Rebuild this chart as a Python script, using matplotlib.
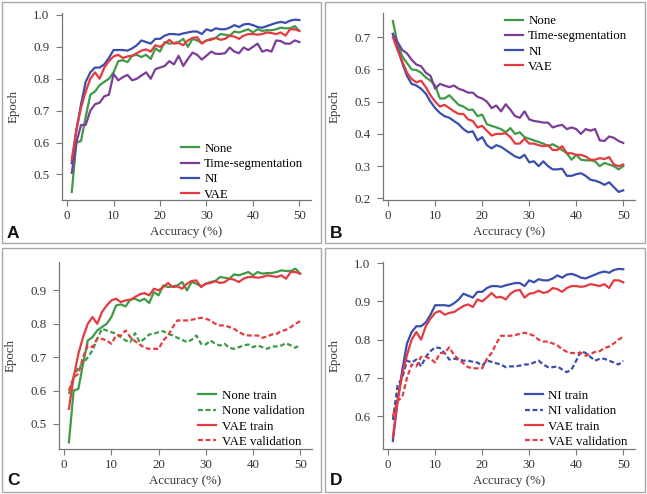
import numpy as np
import matplotlib
matplotlib.use('Agg')
import matplotlib.pyplot as plt
from matplotlib.patches import Rectangle

plt.rcParams['font.family'] = ['Liberation Serif', 'DejaVu Serif']

epochs = list(range(1, 51))

# panel A: training accuracy per augmentation
a_none = [0.445, 0.60, 0.605, 0.68, 0.75, 0.76, 0.78, 0.79, 0.80, 0.82,
          0.855, 0.858, 0.852, 0.872, 0.875, 0.868, 0.875, 0.862, 0.895, 0.885,
          0.915, 0.91, 0.912, 0.915, 0.925, 0.90, 0.925, 0.92, 0.912, 0.92,
          0.925, 0.928, 0.94, 0.938, 0.935, 0.948, 0.945, 0.95, 0.955, 0.945,
          0.955, 0.95, 0.952, 0.952, 0.955, 0.96, 0.958, 0.958, 0.965, 0.95]
a_ts = [0.505, 0.60, 0.655, 0.655, 0.70, 0.72, 0.725, 0.745, 0.75, 0.815,
        0.795, 0.805, 0.812, 0.795, 0.80, 0.81, 0.82, 0.80, 0.83, 0.835,
        0.84, 0.855, 0.845, 0.872, 0.84, 0.862, 0.882, 0.875, 0.86, 0.872,
        0.885, 0.878, 0.878, 0.88, 0.898, 0.885, 0.88, 0.898, 0.89, 0.90,
        0.91, 0.885, 0.89, 0.885, 0.92, 0.918, 0.91, 0.91, 0.92, 0.915]
a_ni = [0.535, 0.64, 0.72, 0.79, 0.82, 0.835, 0.835, 0.845, 0.865, 0.89,
        0.89, 0.89, 0.888, 0.895, 0.905, 0.92, 0.915, 0.91, 0.925, 0.925,
        0.935, 0.94, 0.94, 0.938, 0.942, 0.945, 0.948, 0.948, 0.94, 0.955,
        0.95, 0.958, 0.955, 0.955, 0.96, 0.968, 0.962, 0.97, 0.972, 0.968,
        0.962, 0.96, 0.965, 0.97, 0.975, 0.978, 0.975, 0.982, 0.985, 0.984]
a_vae = [0.545, 0.64, 0.71, 0.76, 0.80, 0.82, 0.80, 0.835, 0.855, 0.87,
         0.875, 0.865, 0.87, 0.872, 0.88, 0.888, 0.892, 0.885, 0.905, 0.90,
         0.91, 0.922, 0.91, 0.912, 0.905, 0.92, 0.928, 0.93, 0.91, 0.92,
         0.922, 0.928, 0.922, 0.925, 0.935, 0.932, 0.925, 0.935, 0.94, 0.94,
         0.938, 0.94, 0.945, 0.943, 0.94, 0.945, 0.935, 0.955, 0.955, 0.95]

# panel B: loss per augmentation
b_none = [0.75, 0.68, 0.64, 0.62, 0.60, 0.598, 0.59, 0.575, 0.565, 0.55,
          0.51, 0.51, 0.52, 0.505, 0.49, 0.485, 0.475, 0.475, 0.455, 0.46,
          0.43, 0.425, 0.42, 0.415, 0.405, 0.418, 0.40, 0.405, 0.39, 0.385,
          0.38, 0.375, 0.37, 0.362, 0.368, 0.36, 0.35, 0.34, 0.32, 0.335,
          0.32, 0.318, 0.318, 0.315, 0.30, 0.31, 0.305, 0.30, 0.29, 0.30]
b_ts = [0.71, 0.685, 0.66, 0.65, 0.63, 0.615, 0.61, 0.59, 0.58, 0.54,
        0.555, 0.55, 0.545, 0.55, 0.54, 0.535, 0.528, 0.528, 0.515, 0.51,
        0.50, 0.48, 0.488, 0.47, 0.492, 0.475, 0.455, 0.45, 0.47, 0.445,
        0.44, 0.438, 0.435, 0.435, 0.42, 0.425, 0.428, 0.415, 0.42, 0.415,
        0.40, 0.415, 0.41, 0.415, 0.38, 0.378, 0.392, 0.388, 0.378, 0.372]
b_ni = [0.71, 0.665, 0.62, 0.58, 0.555, 0.55, 0.54, 0.525, 0.50, 0.48,
        0.465, 0.455, 0.45, 0.44, 0.43, 0.415, 0.405, 0.408, 0.38, 0.39,
        0.365, 0.355, 0.365, 0.36, 0.35, 0.34, 0.33, 0.325, 0.335, 0.312,
        0.315, 0.30, 0.315, 0.30, 0.29, 0.29, 0.292, 0.27, 0.27, 0.275,
        0.278, 0.27, 0.258, 0.255, 0.25, 0.242, 0.25, 0.235, 0.22, 0.225]
b_vae = [0.70, 0.66, 0.625, 0.59, 0.57, 0.56, 0.565, 0.545, 0.52, 0.50,
         0.485, 0.49, 0.48, 0.47, 0.462, 0.462, 0.445, 0.44, 0.42, 0.425,
         0.41, 0.395, 0.40, 0.40, 0.402, 0.39, 0.37, 0.37, 0.385, 0.37,
         0.37, 0.365, 0.362, 0.365, 0.35, 0.35, 0.362, 0.34, 0.34, 0.335,
         0.335, 0.33, 0.32, 0.32, 0.325, 0.322, 0.328, 0.305, 0.30, 0.305]

# validation curves (panels C and D)
none_val = [0.59, 0.64, 0.67, 0.68, 0.70, 0.72, 0.755, 0.785, 0.78, 0.775,
            0.77, 0.76, 0.75, 0.745, 0.772, 0.745, 0.755, 0.768, 0.77, 0.775,
            0.778, 0.77, 0.765, 0.758, 0.752, 0.745, 0.752, 0.765, 0.74, 0.738,
            0.75, 0.74, 0.735, 0.74, 0.728, 0.725, 0.73, 0.735, 0.738, 0.73,
            0.735, 0.73, 0.725, 0.732, 0.732, 0.735, 0.742, 0.735, 0.728, 0.738]
vae_val = [0.60, 0.64, 0.65, 0.70, 0.735, 0.73, 0.755, 0.755, 0.75, 0.74,
           0.765, 0.765, 0.78, 0.76, 0.748, 0.738, 0.728, 0.725, 0.725, 0.725,
           0.75, 0.765, 0.79, 0.81, 0.81, 0.81, 0.812, 0.815, 0.818, 0.815,
           0.81, 0.80, 0.795, 0.795, 0.79, 0.785, 0.775, 0.768, 0.765, 0.765,
           0.765, 0.758, 0.762, 0.768, 0.77, 0.778, 0.782, 0.79, 0.80, 0.808]
ni_val = [0.59, 0.68, 0.70, 0.745, 0.74, 0.748, 0.73, 0.755, 0.77, 0.78,
          0.778, 0.765, 0.748, 0.75, 0.748, 0.745, 0.745, 0.742, 0.74, 0.732,
          0.745, 0.742, 0.738, 0.735, 0.728, 0.73, 0.73, 0.732, 0.735, 0.735,
          0.74, 0.745, 0.735, 0.728, 0.728, 0.73, 0.722, 0.715, 0.722, 0.745,
          0.77, 0.765, 0.755, 0.745, 0.75, 0.75, 0.745, 0.74, 0.735, 0.745]

GREEN = '#3e9a47'
PURPLE = '#7b3d98'
BLUE = '#3a4eae'
RED = '#e53a40'
DASH = (0, (2.2, 1.2))
LW = 1.6

W, H = 647, 494
fig = plt.figure(figsize=(W / 100, H / 100), dpi=100)


def px_axes(l, t, r, b):
    return fig.add_axes([l / W, 1 - b / H, (r - l) / W, (b - t) / H])


def style(ax, ylim, yticks):
    ax.set_xlim(-1.1, 52.5)
    ax.set_ylim(*ylim)
    ax.set_xticks([0, 10, 20, 30, 40, 50])
    ax.set_yticks(yticks)
    ax.set_yticklabels(['%.1f' % v for v in yticks])
    for s in ['top', 'right']:
        ax.spines[s].set_visible(False)
    for s in ['left', 'bottom']:
        ax.spines[s].set_color('#777777')
        ax.spines[s].set_linewidth(0.9)
    ax.tick_params(direction='out', length=4, width=0.8, color='#777777',
                   labelsize=9.3, labelcolor='#333333')
    ax.tick_params(axis='y', pad=5)
    ax.tick_params(axis='x', pad=3)
    ax.set_xlabel('Accuracy (%)', fontsize=9.3, color='#333333', labelpad=3)
    ax.set_ylabel('Epoch', fontsize=9.3, color='#333333', labelpad=10)
    ax.patch.set_alpha(0)


leg_kw = dict(frameon=False, fontsize=9.3, handlelength=1.4, handletextpad=0.4,
              labelspacing=0.25, borderaxespad=0.2)

# panel borders
for (l, t, r, b) in [(2, 2, 321, 243), (325, 2, 645, 243),
                     (2, 248, 321, 492), (325, 248, 645, 492)]:
    fig.patches.append(Rectangle((l / W, 1 - b / H), (r - l) / W, (b - t) / H,
                                 transform=fig.transFigure, fill=False,
                                 edgecolor='#a8a8a8', linewidth=1))

# A
ax = px_axes(62, 13, 311, 200)
ax.plot(epochs, a_none, color=GREEN, lw=LW, label='None')
ax.plot(epochs, a_ts, color=PURPLE, lw=LW, label='Time-segmentation')
ax.plot(epochs, a_ni, color=BLUE, lw=LW, label='NI')
ax.plot(epochs, a_vae, color=RED, lw=LW, label='VAE')
style(ax, (0.42, 1.006), [0.5, 0.6, 0.7, 0.8, 0.9, 1.0])
ax.legend(loc='lower right', bbox_to_anchor=(1.0, -0.045), **leg_kw)

# B
ax = px_axes(383, 13, 635, 200)
ax.plot(epochs, b_none, color=GREEN, lw=LW, label='None')
ax.plot(epochs, b_ts, color=PURPLE, lw=LW, label='Time-segmentation')
ax.plot(epochs, b_ni, color=BLUE, lw=LW, label='NI')
ax.plot(epochs, b_vae, color=RED, lw=LW, label='VAE')
style(ax, (0.195, 0.775), [0.2, 0.3, 0.4, 0.5, 0.6, 0.7])
ax.legend(loc='upper right', bbox_to_anchor=(1.0, 1.03), **leg_kw)

# C
ax = px_axes(59, 262, 312, 449)
ax.plot(epochs, a_none, color=GREEN, lw=LW, label='None train')
ax.plot(epochs, none_val, color=GREEN, lw=LW, ls=DASH, label='None validation')
ax.plot(epochs, a_vae, color=RED, lw=LW, label='VAE train')
ax.plot(epochs, vae_val, color=RED, lw=LW, ls=DASH, label='VAE validation')
style(ax, (0.425, 0.985), [0.5, 0.6, 0.7, 0.8, 0.9])
ax.legend(loc='lower right', bbox_to_anchor=(1.0, -0.035), **leg_kw)

# D
ax = px_axes(383, 262, 635, 449)
ax.plot(epochs, a_ni, color=BLUE, lw=LW, label='NI train')
ax.plot(epochs, ni_val, color=BLUE, lw=LW, ls=DASH, label='NI validation')
ax.plot(epochs, a_vae, color=RED, lw=LW, label='VAE train')
ax.plot(epochs, vae_val, color=RED, lw=LW, ls=DASH, label='VAE validation')
style(ax, (0.514, 1.003), [0.6, 0.7, 0.8, 0.9, 1.0])
ax.legend(loc='lower right', bbox_to_anchor=(1.0, -0.035), **leg_kw)

# panel letters
for letter, x, y in [('A', 7, 238), ('B', 330, 238), ('C', 7, 485), ('D', 330, 485)]:
    fig.text(x / W, 1 - y / H, letter, fontsize=12.5, fontweight='bold',
             family=['Liberation Sans', 'DejaVu Sans'], color='#111111',
             va='baseline', ha='left')

fig.savefig('out.png', dpi=100)
